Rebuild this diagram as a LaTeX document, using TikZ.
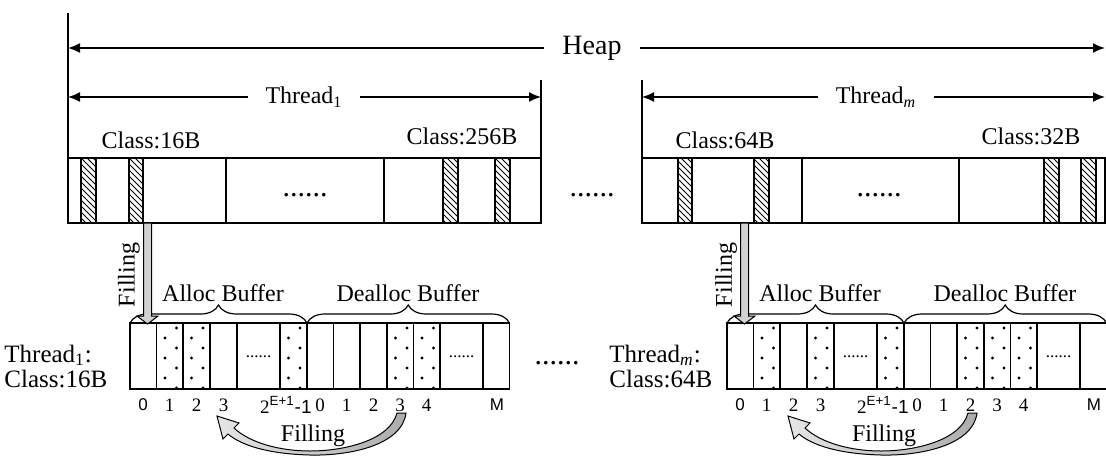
\documentclass[tikz,border=0pt]{standalone}
\usepackage{fontspec}
\setmainfont{Liberation Serif}
\setsansfont{Liberation Sans}
\usetikzlibrary{arrows.meta,patterns,decorations.pathreplacing}

\tikzset{
  cellline/.style={draw, line width=0.8pt},
  hatched/.style={draw, line width=0.8pt, pattern=north west lines},
  extent/.style={line width=0.8pt, {Latex[length=6pt,width=5pt]}-{Latex[length=6pt,width=5pt]}},
  gapped/.style={fill=white, inner xsep=9pt, inner ysep=1pt},
  txt/.style={font=\fontsize{12}{14}\selectfont, inner sep=0pt},
  idx/.style={font=\fontsize{9.5}{10}\selectfont, inner sep=0pt},
  sidx/.style={font=\sffamily\fontsize{8.5}{9}\selectfont, inner sep=0pt},
  fillbar/.style={draw, line width=0.5pt, fill=gray!35},
  bendarrow/.style={draw, line width=0.5pt, left color=gray!20, right color=gray!65},
  brc/.style={draw, line width=0.6pt, decorate, decoration={brace, amplitude=9pt}},
  more/.style={inner sep=0pt}
}

\begin{document}
\begin{tikzpicture}[x=0.5pt,y=-0.5pt]
\useasboundingbox (0,0) rectangle (1106,455);

% heap and thread extents
\draw[cellline] (68,13) -- (68,223);
\draw[cellline] (541,80) -- (541,223);
\draw[cellline] (642,80) -- (642,223);
\coordinate (heapL) at (68,48);
\coordinate (heapR) at (1105,48);
\coordinate (thrAL) at (68,97);
\coordinate (thrAR) at (541,97);
\coordinate (thrBL) at (642,97);
\coordinate (thrBR) at (1105,97);
\draw[extent] (heapL) -- (heapR);
\draw[extent] (thrAL) -- (thrAR);
\draw[extent] (thrBL) -- (thrBR);
\node[gapped, font=\fontsize{14}{16}\selectfont] (heap) at (592,48) {Heap};
\node[gapped, font=\fontsize{12}{14}\selectfont] (thrA) at (304,97) {Thread\textsubscript{1}};
\node[gapped, font=\fontsize{12}{14}\selectfont] (thrB) at (876,97) {Thread\textsubscript{\textit{m}}};

\node[txt] (clsA1) at (151,140) {Class:16B};
\node[txt] (clsA2) at (462,136) {Class:256B};
\node[txt] (clsB1) at (725,140) {Class:64B};
\node[txt] (clsB2) at (1031,136) {Class:32B};

% size class strips
\draw[cellline] (68,158) rectangle (541,223);
\draw[cellline] (226,158) -- (226,223) (384,158) -- (384,223);
\foreach \a/\b in {81/96,129/143,443/458,495/510}
  \draw[hatched] (\a,158) rectangle (\b,223);
\node[more, font=\fontsize{15}{15}\selectfont] (moreA) at (305,195) {......};

\draw[cellline] (642,158) rectangle (1105,223);
\draw[cellline] (802,158) -- (802,223) (959,158) -- (959,223);
\foreach \a/\b in {678/692,754/769,1044/1059,1081/1096}
  \draw[hatched] (\a,158) rectangle (\b,223);
\node[more, font=\fontsize{15}{15}\selectfont] (moreB) at (879,195) {......};

\node[more, font=\fontsize{15}{15}\selectfont] (moreTop) at (592,195) {......};
\node[more, font=\fontsize{15}{15}\selectfont] (moreLow) at (557,363) {......};

\node[txt, align=left, anchor=west, font=\fontsize{12.5}{12.5}\selectfont] (sideA) at (4,366) {Thread\textsubscript{1}:\\Class:16B};
\node[txt, align=left, anchor=west, font=\fontsize{12.5}{12.5}\selectfont] (sideB) at (609,366) {Thread\textsubscript{\textit{m}}:\\Class:64B};

% alloc / dealloc buffers
\foreach \bx/\ax/\dcs/\id in
  {130/0/{26.5,53,150,257,283.5}/A,
   727/571/{26.5,80,150,230,257,283.5}/B}
{
  \begin{scope}[shift={(\bx,0)}]
    \draw[cellline] (0,323) rectangle (379.5,389);
    \foreach \x in {26.5,53,80,107,150,177,203.5,230,257,283.5,310,353}
      \draw[cellline] (\x,323) -- (\x,389);
    \foreach \c in \dcs {
      \foreach \dy in {15,35,55} \fill (\c+8.5,323+\dy) circle (0.8pt);
      \foreach \dy in {5,25,45,65} \fill (\c+20,323+\dy) circle (0.8pt);
    }
    \node[more, font=\fontsize{8.5}{9}\selectfont] (\id-gapA) at (128.5,357) {......};
    \node[more, font=\fontsize{8.5}{9}\selectfont] (\id-gapD) at (331.5,357) {......};

    \node[sidx] (\id-a0) at (13,405) {0};
    \foreach \x/\t in {39.5/1,66.5/2,93.5/3}
      \node[idx] (\id-a\t) at (\x,405) {\t};
    \node[idx, anchor=east] (\id-aE) at (182,405) {2\textsuperscript{\sffamily E+1}\textsf{-1}};
    \foreach \x/\t in {190/0,216.5/1,243.5/2,270/3,296.5/4}
      \node[idx] (\id-d\t) at (\x,405) {\t};
    \node[sidx] (\id-dM) at (367,405) {M};

    \draw[brc] (0,323) -- (177,323);
    \draw[brc] (177,323) -- (379.5,323);
    \node[txt] (\id-alloc) at (93,293) {Alloc Buffer};
    \node[txt] (\id-dealloc) at (278,293) {Dealloc Buffer};

    \draw[fillbar] (13.5,223) -- (13.5,316) -- (7,316) -- (17.5,324) -- (28,316) -- (21.5,316) -- (21.5,223) -- cycle;
    \node[txt, rotate=90] (\id-fill) at (-1,275) {Filling};
  \end{scope}
  \begin{scope}[shift={(\ax,0)}]
    \path[bendarrow] (406,413) .. controls (402,445) and (350,456) .. (310,455)
      .. controls (270,454) and (242,446) .. (228,434)
      -- (223,439) -- (217,416) -- (239,423) -- (234,428)
      .. controls (250,443) and (280,451) .. (310,451)
      .. controls (345,451) and (390,440) .. (397,413) -- cycle;
    \node[txt] (\id-refill) at (313,436) {Filling};
  \end{scope}
}
\end{tikzpicture}
\end{document}
